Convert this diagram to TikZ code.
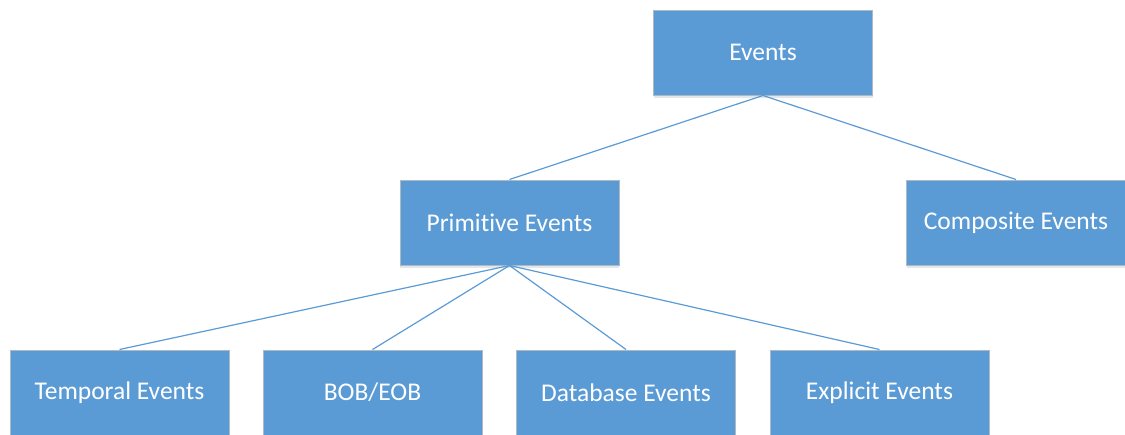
\documentclass[tikz,border=0pt]{standalone}
\usepackage{fontspec}
\setmainfont{Carlito}[Ligatures=NoCommon]
\usetikzlibrary{shadows}
\definecolor{boxblue}{HTML}{5B9BD5}
\definecolor{boxedge}{HTML}{AEB9C4}
\tikzset{
  evbox/.style={draw=boxedge, line width=1pt, fill=boxblue, text=white,
    minimum width=219pt, minimum height=85pt, inner sep=0pt,
    font=\fontsize{25.5}{30}\selectfont,
    drop shadow={shadow xshift=0pt, shadow yshift=-2.5pt, fill=boxedge, opacity=0.35}},
  link/.style={draw=boxblue, line width=1.2pt}
}
\begin{document}
\begin{tikzpicture}[x=1pt, y=-1pt]
  \useasboundingbox (0,0) rectangle (1125,434);
  \clip (0,0) rectangle (1125,434);
  % hierarchy of event types
  \node[evbox] (ev)   at (763,52.5)   {Events};
  \node[evbox] (prim) at (509.5,222.5) {Primitive Events};
  \node[evbox] (comp) at (1016,222.5)  {Composite Events};
  \node[evbox] (temp) at (119.5,392.5) {Temporal Events};
  \node[evbox] (bob)  at (372.5,392.5) {BOB/EOB};
  \node[evbox] (db)   at (626,392.5)   {Database Events};
  \node[evbox] (expl) at (879.5,392.5) {Explicit Events};
  % connectors from parent bottoms to child tops
  \draw[link] (ev.south) -- (prim.north);
  \draw[link] (ev.south) -- (comp.north);
  \draw[link] (prim.south) -- (temp.north);
  \draw[link] (prim.south) -- (bob.north);
  \draw[link] (prim.south) -- (db.north);
  \draw[link] (prim.south) -- (expl.north);
\end{tikzpicture}
\end{document}
